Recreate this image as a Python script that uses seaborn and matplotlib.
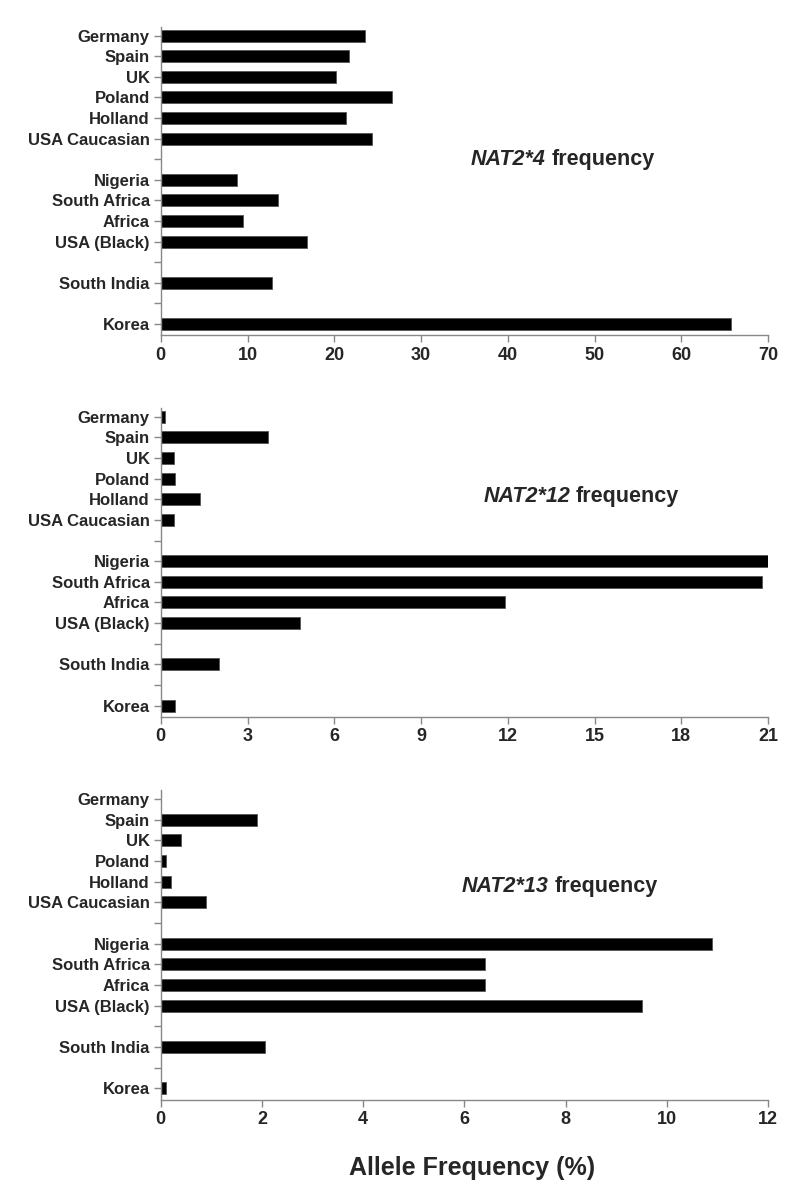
import numpy as np
import pandas as pd
import matplotlib
matplotlib.use('Agg')
import matplotlib.pyplot as plt
import seaborn as sns

# Populations, top to bottom (blank slots are spacers between groups)
slots = ['Germany', 'Spain', 'UK', 'Poland', 'Holland', 'USA Caucasian', 'gap1',
         'Nigeria', 'South Africa', 'Africa', 'USA (Black)', 'gap2',
         'South India', 'gap3', 'Korea']
populations = ['Germany', 'Spain', 'UK', 'Poland', 'Holland', 'USA Caucasian',
               'Nigeria', 'South Africa', 'Africa', 'USA (Black)',
               'South India', 'Korea']

# Allele frequencies (%)
nat2_4 = [23.5, 21.7, 20.2, 26.7, 21.4, 24.3, 8.8, 13.5, 9.5, 16.8, 12.8, 65.7]
nat2_12 = [0.15, 3.7, 0.45, 0.5, 1.35, 0.45, 21.0, 20.8, 11.9, 4.8, 2.0, 0.5]
nat2_13 = [0.0, 1.9, 0.4, 0.1, 0.2, 0.9, 10.9, 6.4, 6.4, 9.5, 2.05, 0.1]

panels = [
    ('NAT2*4', nat2_4, 70, 10, (0.634, 0.571)),
    ('NAT2*12', nat2_12, 21, 3, (0.674, 0.712)),
    ('NAT2*13', nat2_13, 12, 2, (0.639, 0.689)),
]

sns.set_theme(style='white')
plt.rcParams['font.family'] = ['Liberation Sans', 'DejaVu Sans']

fig = plt.figure(figsize=(8, 12), dpi=100)
axes_pos = [
    [0.201, 0.7205, 0.759, 0.257],
    [0.201, 0.4025, 0.759, 0.2575],
    [0.201, 0.0835, 0.759, 0.258],
]

for (allele, vals, xmax, step, (tx, ty)), pos in zip(panels, axes_pos):
    ax = fig.add_axes(pos)
    df = pd.DataFrame({'Population': populations, 'Frequency': vals})
    sns.barplot(data=df, x='Frequency', y='Population', order=slots,
                color='black', edgecolor='#555555', linewidth=0.6,
                width=0.58, ax=ax)
    ax.set_xlim(0, xmax)
    ax.set_ylim(14.55, -0.42)
    ax.set_xticks(np.arange(0, xmax + step, step))
    ax.set_yticks(range(len(slots)))
    ax.set_yticklabels(['' if s.startswith('gap') else s for s in slots],
                       fontsize=12, fontweight='bold')
    for lab in ax.get_xticklabels():
        lab.set_fontsize(13)
        lab.set_fontweight('bold')
    ax.set_xlabel('')
    ax.set_ylabel('')
    for side in ['top', 'right']:
        ax.spines[side].set_visible(False)
    for side in ['left', 'bottom']:
        ax.spines[side].set_color('#888888')
        ax.spines[side].set_linewidth(1.0)
    ax.tick_params(axis='both', which='major', direction='out', length=5,
                   width=1, color='#888888', left=True, bottom=True, pad=3)
    ax.text(tx, ty, allele, transform=ax.transAxes, ha='right', va='center',
            fontsize=15.5, fontweight='bold', fontstyle='italic')
    ax.text(tx + 0.009, ty, 'frequency', transform=ax.transAxes, ha='left',
            va='center', fontsize=15.5, fontweight='bold')

fig.text(0.59, 0.027, 'Allele Frequency (%)', ha='center', va='center',
         fontsize=18, fontweight='bold')

fig.savefig('out.png', dpi=100)
